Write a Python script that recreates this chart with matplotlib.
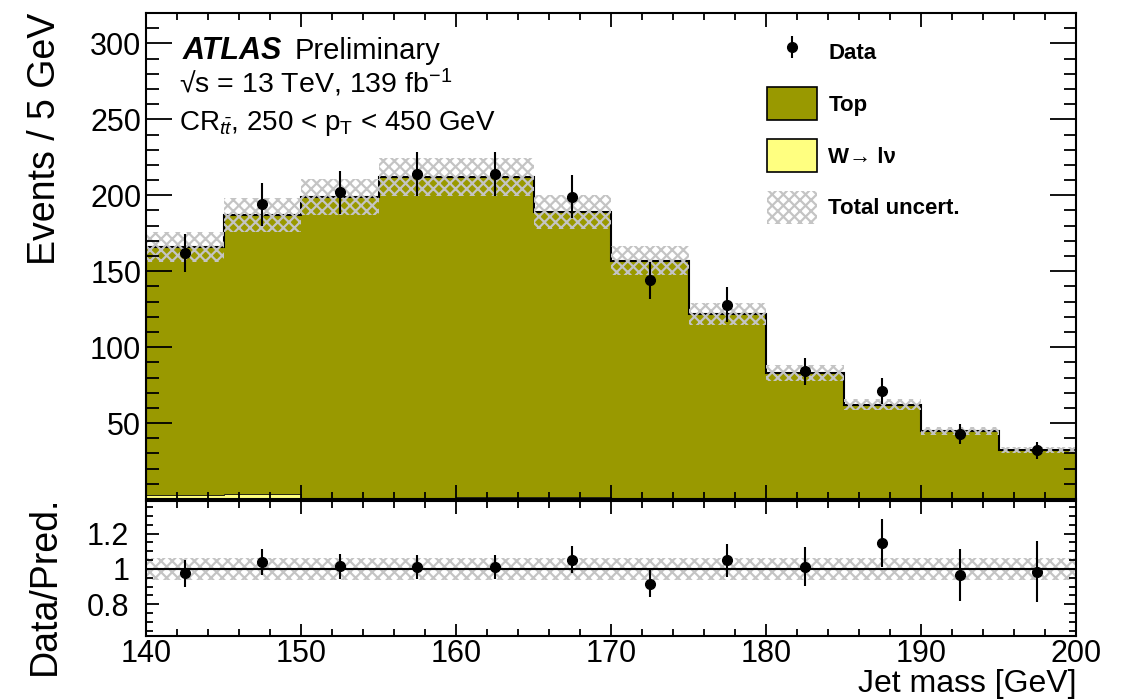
import numpy as np
import matplotlib
matplotlib.use("Agg")
import matplotlib.pyplot as plt
from matplotlib.patches import Patch
from matplotlib.ticker import MultipleLocator, FixedLocator

plt.rcParams['font.family'] = ['Liberation Sans', 'DejaVu Sans']
plt.rcParams['mathtext.fontset'] = 'custom'
plt.rcParams['mathtext.rm'] = 'Liberation Sans'
plt.rcParams['mathtext.it'] = 'Liberation Sans:italic'
plt.rcParams['mathtext.bf'] = 'Liberation Sans:bold'
plt.rcParams['hatch.linewidth'] = 1.6

# bin edges of the jet mass, 5 GeV wide
edges = np.arange(140, 201, 5)
data = np.array([162, 194, 202, 214, 214, 199, 144, 128, 84, 71, 43, 32])
pred = np.array([166, 187, 199, 212, 212, 189, 157, 122, 83, 62, 44.5, 32.5])
wlnu = np.array([2.5, 3.5, 0.8, 0.8, 1.2, 1.2, 0.8, 0.5, 0.4, 0.3, 0.2, 0.2])
rel_unc = np.array([0.06, 0.06, 0.06, 0.06, 0.06, 0.06, 0.06, 0.06, 0.06, 0.06, 0.06, 0.06])

top = pred - wlnu
centers = 0.5 * (edges[:-1] + edges[1:])
width = np.diff(edges)
unc = rel_unc * pred

c_top = '#999900'
c_w = '#ffff80'
c_band = '#c4c4c4'
hatch = 'xxx'

fig = plt.figure(figsize=(11.21, 6.99), dpi=100)
L, Wd = 146 / 1121, 930 / 1121
ax = fig.add_axes([L, 200 / 699, Wd, 486 / 699])
rax = fig.add_axes([L, 63 / 699, Wd, 135 / 699])

# main panel
ax.bar(centers, wlnu, width=width, color=c_w, linewidth=0)
ax.bar(centers, top, width=width, bottom=wlnu, color=c_top, linewidth=0)
ax.stairs(wlnu, edges, color='k', linewidth=0.6)
ax.stairs(pred, edges, color='k', linewidth=1.5)
ax.bar(centers, 2 * unc, width=width, bottom=pred - unc, fill=False,
       hatch=hatch, edgecolor=c_band, linewidth=0)
eb = ax.errorbar(centers, data, yerr=np.sqrt(data), fmt='o', color='k',
                 ms=7, elinewidth=1.5, capsize=0)

ax.set_xlim(140, 200)
ax.set_ylim(0.01, 320)
ax.yaxis.set_major_locator(FixedLocator([50, 100, 150, 200, 250, 300]))
ax.yaxis.set_minor_locator(MultipleLocator(10))
ax.xaxis.set_major_locator(MultipleLocator(10))
ax.xaxis.set_minor_locator(MultipleLocator(2))
ax.tick_params(axis='x', labelbottom=False)
ax.set_ylabel('Events / 5 GeV', fontsize=27, loc='top')
ax.yaxis.set_label_coords(-0.0895, 1.0)

# ATLAS label
ax.text(0.039, 0.905, 'ATLAS', transform=ax.transAxes, fontsize=22,
        fontweight='bold', fontstyle='italic', va='baseline')
ax.text(0.160, 0.905, 'Preliminary', transform=ax.transAxes, fontsize=21,
        va='baseline')
ax.text(0.036, 0.835, '√s = 13 TeV, 139 fb$^{-1}$', transform=ax.transAxes,
        fontsize=20.5, va='baseline')
ax.text(0.036, 0.76, r'CR$_{t\bar{t}}$, 250 < p$_\mathrm{T}$ < 450 GeV',
        transform=ax.transAxes, fontsize=20, va='baseline')

handles = [eb,
           Patch(facecolor=c_top, edgecolor='k', linewidth=1.2),
           Patch(facecolor=c_w, edgecolor='k', linewidth=1.2),
           Patch(facecolor='none', edgecolor=c_band, hatch=hatch, linewidth=0)]
labels = ['Data', 'Top', 'W→ lν', 'Total uncert.']
leg = ax.legend(handles, labels, loc='upper left', bbox_to_anchor=(0.668, 0.955),
                frameon=False, prop={'size': 16, 'weight': 'bold'},
                handlelength=2.25, handleheight=1.94, labelspacing=0.83,
                handletextpad=0.5, borderpad=0, borderaxespad=0)

# ratio panel
ratio = data / pred
ratio_err = np.sqrt(data) / pred
rax.bar(centers, 2 * rel_unc, width=width, bottom=1 - rel_unc, fill=False,
        hatch=hatch, edgecolor=c_band, linewidth=0)
rax.axhline(1.0, color='k', linewidth=1.5)
rax.errorbar(centers, ratio, yerr=ratio_err, fmt='o', color='k', ms=7,
             elinewidth=1.5, capsize=0)
rax.set_xlim(140, 200)
rax.set_ylim(0.62, 1.385)
rax.yaxis.set_major_locator(FixedLocator([0.8, 1.0, 1.2]))
rax.yaxis.set_major_formatter(plt.FuncFormatter(lambda v, p: '%g' % v))
rax.yaxis.set_minor_locator(MultipleLocator(0.05))
rax.xaxis.set_major_locator(MultipleLocator(10))
rax.xaxis.set_minor_locator(MultipleLocator(2))
rax.set_xlabel('Jet mass [GeV]', fontsize=23, loc='right', labelpad=0)
rax.set_ylabel('Data/Pred.', fontsize=27)
rax.yaxis.set_label_coords(-0.089, 0.375)

for a in (ax, rax):
    for s in a.spines.values():
        s.set_linewidth(1.5)
    a.tick_params(which='both', direction='in', top=True, right=True,
                  labelsize=22, width=1.3)
ax.tick_params(axis='y', which='major', length=19)
ax.tick_params(axis='y', which='minor', length=9)
ax.tick_params(axis='x', which='major', length=10)
ax.tick_params(axis='x', which='minor', length=5)
rax.tick_params(axis='y', which='major', length=9, pad=12)
rax.tick_params(axis='y', which='minor', length=5)
rax.tick_params(axis='x', which='major', length=9)
rax.tick_params(axis='x', which='minor', length=5)
rax.tick_params(axis='x', pad=2)

fig.savefig('out.png', dpi=100)
